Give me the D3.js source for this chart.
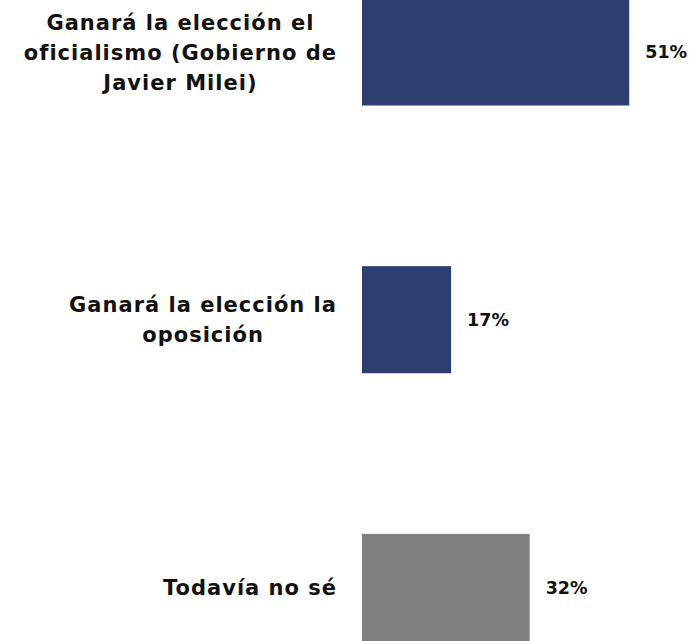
<!DOCTYPE html>
<html>
<head>
<meta charset="utf-8">
<script src="https://cdn.jsdelivr.net/npm/d3@7"></script>
<style>
  body { margin: 0; background: #fff; }
  svg { display: block; }
  .cat { font-family: "DejaVu Sans", sans-serif; font-weight: bold; font-size: 21px; letter-spacing: 1px; fill: #111; }
  .val { font-family: "DejaVu Sans", sans-serif; font-weight: bold; font-size: 17.5px; fill: #111; }
</style>
</head>
<body>
<div id="chart"></div>
<script>
// datos del gráfico
var categories = ["oficialismo", "oposicion", "nose"];
var labelLines = [
    ["Ganará la elección el", "oficialismo (Gobierno de", "Javier Milei)"],
    ["Ganará la elección la", "oposición"],
    ["Todavía no sé"]
];
var values = [51, 17, 32];
var barColors = ["#2d3f6e", "#2d3f6e", "#7f7f7f"];

var width = 697, height = 641;

var svg = d3.select("#chart").append("svg")
    .attr("width", width)
    .attr("height", height);

var xScale = d3.scaleLinear()
    .domain([0, 100])
    .range([362, 886]);

var yScale = d3.scaleBand()
    .domain(categories)
    .range([-1.6, 641])
    .paddingInner(0.6)
    .paddingOuter(0);

// barras
svg.selectAll("rect.bar")
    .data(values)
    .enter().append("rect")
    .attr("class", "bar")
    .attr("x", xScale(0))
    .attr("y", function(d, i) { return yScale(categories[i]); })
    .attr("width", function(d) { return xScale(d) - xScale(0); })
    .attr("height", yScale.bandwidth())
    .style("fill", function(d, i) { return barColors[i]; });

// etiquetas de valor
svg.selectAll("text.val")
    .data(values)
    .enter().append("text")
    .attr("class", "val")
    .attr("x", function(d) { return xScale(d) + 16; })
    .attr("y", function(d, i) { return yScale(categories[i]) + yScale.bandwidth() / 2; })
    .attr("dy", "0.36em")
    .text(function(d) { return d + "%"; });

// etiquetas de categoría (líneas centradas en un bloque alineado a la derecha)
var labelRight = 337;
var lineH = 30;
labelLines.forEach(function(lines, i) {
    var cy = yScale(categories[i]) + yScale.bandwidth() / 2;
    var g = svg.append("g");
    var texts = g.selectAll("text")
        .data(lines)
        .enter().append("text")
        .attr("class", "cat")
        .attr("text-anchor", "middle")
        .attr("y", function(d, j) { return cy + (j - (lines.length - 1) / 2) * lineH; })
        .attr("dy", "0.36em")
        .text(function(d) { return d; });
    var maxW = d3.max(texts.nodes(), function(n) { return n.getComputedTextLength(); });
    texts.attr("x", labelRight - maxW / 2);
});
</script>
</body>
</html>
